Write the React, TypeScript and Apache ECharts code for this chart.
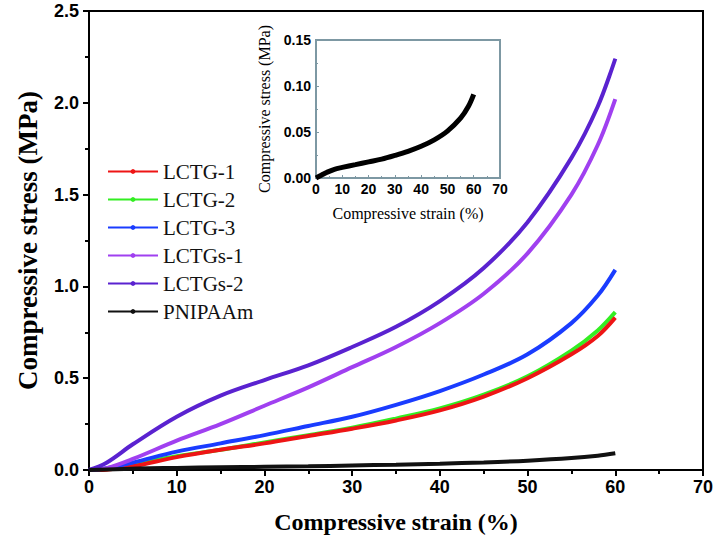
import React, { useEffect, useRef } from "react";
import * as echarts from "echarts";

const strain = [0, 2, 5, 10, 15, 20, 25, 30, 35, 40, 45, 50, 55, 58, 60];
const lctg1 = [0, 0.002, 0.02, 0.07, 0.11, 0.145, 0.185, 0.225, 0.27, 0.325, 0.4, 0.5, 0.63, 0.73, 0.83];
const lctg2 = [0, 0.004, 0.03, 0.075, 0.11, 0.15, 0.19, 0.23, 0.28, 0.335, 0.41, 0.51, 0.65, 0.76, 0.86];
const lctg3 = [0, 0.01, 0.04, 0.1, 0.145, 0.19, 0.24, 0.29, 0.355, 0.43, 0.52, 0.63, 0.8, 0.95, 1.09];
const lctgs1 = [0, 0.01, 0.06, 0.16, 0.25, 0.35, 0.45, 0.56, 0.67, 0.8, 0.96, 1.18, 1.5, 1.77, 2.02];
const lctgs2 = [0, 0.04, 0.14, 0.29, 0.405, 0.49, 0.57, 0.67, 0.78, 0.92, 1.1, 1.35, 1.7, 1.98, 2.24];
const pnStrain = [0, 2, 4, 7, 10, 15, 20, 25, 30, 35, 40, 45, 50, 55, 58, 60];
const pnipaam = [0, 0.003, 0.006, 0.0095, 0.0115, 0.0145, 0.0175, 0.0205, 0.0245, 0.029, 0.0345, 0.0415, 0.051, 0.065, 0.078, 0.091];

const names = ["LCTG-1", "LCTG-2", "LCTG-3", "LCTGs-1", "LCTGs-2", "PNIPAAm"];
const colors = ["#ee1515", "#33ee22", "#1a3cff", "#a040f0", "#5a22d0", "#111111"];

const pair = (xs: number[], ys: number[]) => xs.map((x, i) => [x, ys[i]]);

export default function App() {
  const ref = useRef<HTMLDivElement>(null);
  useEffect(() => {
    const chart = echarts.init(ref.current!, null, { renderer: "svg" });
    const serif = "Liberation Serif, Times New Roman, serif";
    const sans = "Liberation Sans, Arial, sans-serif";
    const inset = "#7d98a3";
    const lineSeries = (name: string, data: number[][], color: string, z: number, width = 4) => ({
      name,
      type: "line",
      data,
      smooth: 0.35,
      showSymbol: false,
      symbol: "circle",
      symbolSize: 4,
      z,
      lineStyle: { width, color },
      itemStyle: { color },
    });
    chart.setOption({
      animation: false,
      backgroundColor: "#fff",
      legend: {
        data: names,
        orient: "vertical",
        left: 102,
        top: 156,
        itemWidth: 50,
        itemHeight: 6,
        itemGap: 7,
        textStyle: { fontFamily: serif, fontSize: 21, color: "#111", lineHeight: 21 },
      },
      grid: [
        { left: 89, right: 19, top: 11, bottom: 76, show: true, borderColor: "#000", borderWidth: 2 },
        { left: 316, width: 184, top: 40, height: 138, show: true, borderColor: inset, borderWidth: 2, backgroundColor: "#fff", z: 5 },
      ],
      xAxis: [
        {
          type: "value",
          gridIndex: 0,
          min: 0,
          max: 70,
          interval: 10,
          name: "Compressive strain (%)",
          nameLocation: "middle",
          nameGap: 40,
          nameTextStyle: { fontFamily: serif, fontWeight: "bold", fontSize: 24, color: "#000" },
          axisLine: { lineStyle: { color: "#000", width: 2 } },
          axisTick: { inside: false, length: 6, lineStyle: { color: "#000", width: 2 } },
          minorTick: { show: true, splitNumber: 2, length: 4, lineStyle: { color: "#000", width: 2 } },
          axisLabel: { fontFamily: sans, fontWeight: "bold", fontSize: 18, color: "#000", margin: 8 },
          splitLine: { show: false },
        },
        {
          type: "value",
          gridIndex: 1,
          min: 0,
          max: 70,
          interval: 10,
          name: "Compressive strain (%)",
          nameLocation: "middle",
          nameGap: 27,
          nameTextStyle: { fontFamily: serif, fontSize: 16, color: "#000" },
          axisLine: { lineStyle: { color: inset, width: 2 } },
          axisTick: { inside: true, length: 3, lineStyle: { color: inset, width: 1 } },
          minorTick: { show: true, splitNumber: 2, length: 2, lineStyle: { color: inset } },
          axisLabel: { fontFamily: sans, fontWeight: "bold", fontSize: 14, color: "#000", margin: 4 },
          splitLine: { show: false },
          z: 6,
        },
      ],
      yAxis: [
        {
          type: "value",
          gridIndex: 0,
          min: 0,
          max: 2.5,
          interval: 0.5,
          name: "Compressive stress (MPa)",
          nameLocation: "middle",
          nameGap: 48,
          nameTextStyle: { fontFamily: serif, fontWeight: "bold", fontSize: 27, color: "#000" },
          axisLine: { show: true, lineStyle: { color: "#000", width: 2 } },
          axisTick: { show: true, inside: false, length: 6, lineStyle: { color: "#000", width: 2 } },
          minorTick: { show: true, splitNumber: 2, length: 4, lineStyle: { color: "#000", width: 2 } },
          axisLabel: { fontFamily: sans, fontWeight: "bold", fontSize: 18, color: "#000", margin: 10, formatter: (v: number) => v.toFixed(1) },
          splitLine: { show: false },
        },
        {
          type: "value",
          gridIndex: 1,
          min: 0,
          max: 0.15,
          interval: 0.05,
          name: "Compressive stress (MPa)",
          nameLocation: "middle",
          nameGap: 44,
          nameTextStyle: { fontFamily: serif, fontSize: 16, color: "#000" },
          axisLine: { show: true, lineStyle: { color: inset, width: 2 } },
          axisTick: { show: true, inside: true, length: 3, lineStyle: { color: inset, width: 1 } },
          minorTick: { show: true, splitNumber: 2, length: 2, lineStyle: { color: inset } },
          axisLabel: { fontFamily: sans, fontWeight: "bold", fontSize: 14, color: "#000", margin: 5, formatter: (v: number) => v.toFixed(2) },
          splitLine: { show: false },
          z: 6,
        },
      ],
      series: [
        lineSeries("LCTG-2", pair(strain, lctg2), colors[1], 2),
        lineSeries("LCTG-1", pair(strain, lctg1), colors[0], 2),
        lineSeries("LCTG-3", pair(strain, lctg3), colors[2], 2),
        lineSeries("LCTGs-1", pair(strain, lctgs1), colors[3], 2),
        lineSeries("LCTGs-2", pair(strain, lctgs2), colors[4], 2),
        lineSeries("PNIPAAm", pair(pnStrain, pnipaam), colors[5], 2),
        {
          ...lineSeries("inset", pair(pnStrain, pnipaam), "#000", 7, 5),
          xAxisIndex: 1,
          yAxisIndex: 1,
        },
      ],
    });
    return () => chart.dispose();
  }, []);
  return <div ref={ref} style={{ width: 722, height: 546, position: "absolute", left: 0, top: 0 }} />;
}
